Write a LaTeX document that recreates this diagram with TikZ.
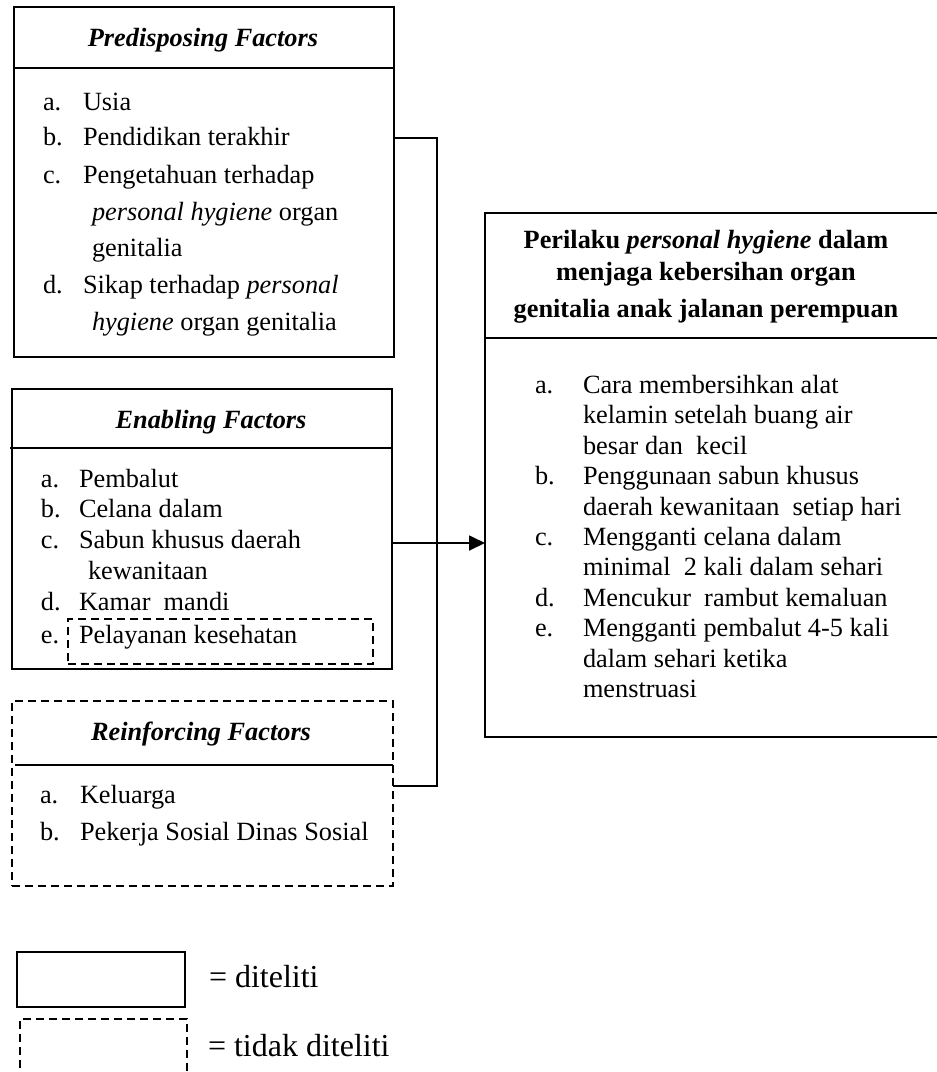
\documentclass[tikz,border=0pt]{standalone}
\usepackage{fontspec}
\setmainfont{Liberation Serif}
\usetikzlibrary{arrows.meta}
\newcommand\putline[4]{\node[body] (#1) at (#2,#3) {#4};}
\begin{document}
\begin{tikzpicture}[x=1pt,y=-1pt,
  every node/.style={inner sep=0pt, outer sep=0pt},
  solidbox/.style={draw, line width=1.8pt, anchor=north west},
  dashbox/.style={draw, line width=1.5pt, dash pattern=on 8pt off 5pt, anchor=north west},
  rule/.style={line width=1.8pt},
  conn/.style={line width=1.8pt},
  body/.style={anchor=base west, font=\fontsize{26.3}{30}\selectfont},
  head/.style={anchor=base, font=\fontsize{26.3}{30}\selectfont\bfseries\itshape},
  rhead/.style={anchor=base, font=\fontsize{26.3}{30}\selectfont\bfseries},
  legend/.style={anchor=base west, font=\fontsize{32}{36}\selectfont}]
\useasboundingbox (0,0) rectangle (937,1072);
\clip (0,0) rectangle (937,1072);
\fill[white] (0,0) rectangle (937,1072);

% ---------- boxes ----------
\node[solidbox, minimum width=380pt, minimum height=350pt] (pred) at (14,7) {};
\node[solidbox, minimum width=380pt, minimum height=280pt] (enab) at (12,389) {};
\node[dashbox, minimum width=381pt, minimum height=185pt] (reinf) at (12,701) {};
\node[solidbox, minimum width=470pt, minimum height=524pt] (beh) at (485,213) {};
\node[dashbox, minimum width=305pt, minimum height=45pt] (pel) at (68,619) {};

% header rules
\draw[rule] (pred.west |- 0,68) -- (pred.east |- 0,68);
\draw[rule] (10,448) -- (enab.east |- 0,448);
\draw[rule] (15,765) -- (reinf.east |- 0,765);
\draw[rule] (beh.west |- 0,338) -- (beh.east |- 0,338);

% ---------- connectors ----------
\coordinate (jtop) at (437,138);
\coordinate (jbot) at (437,786);
\draw[conn] (pred.east |- jtop) -- (jtop) -- (jbot) -- (reinf.east |- jbot);
\draw[conn, -{Triangle[length=16pt,width=15pt]}] (enab.east |- 0,543) -- (beh.west |- 0,543);

% ---------- titles ----------
\node[head] (predt) at (203,46) {Predisposing Factors};
\node[head] (enabt) at (211,428) {Enabling Factors};
\node[head] (reinft) at (201,740) {Reinforcing Factors};
\node[rhead] (beht1) at (706,248) {Perilaku \textit{personal hygiene} dalam};
\node[rhead] (beht2) at (706,280) {menjaga kebersihan organ};
\node[rhead] (beht3) at (706,317) {genitalia anak jalanan perempuan};

% ---------- predisposing items ----------
\putline{pa}{43}{110}{a.}
\putline{pat}{83}{110}{Usia}
\putline{pb}{43}{145}{b.}
\putline{pbt}{83}{145}{Pendidikan terakhir}
\putline{pc}{43}{183}{c.}
\putline{pct}{83}{183}{Pengetahuan terhadap}
\putline{pct2}{92}{220}{\textit{personal hygiene} organ}
\putline{pct3}{92}{256}{genitalia}
\putline{pd}{43}{293}{d.}
\putline{pdt}{83}{293}{Sikap terhadap \textit{personal}}
\putline{pdt2}{92}{330}{\textit{hygiene} organ genitalia}

% ---------- enabling items ----------
\putline{ea}{41}{487}{a.}
\putline{eat}{79}{487}{Pembalut}
\putline{eb}{41}{517}{b.}
\putline{ebt}{79}{517}{Celana dalam}
\putline{ec}{41}{548}{c.}
\putline{ect}{79}{548}{Sabun khusus daerah}
\putline{ect2}{88}{579}{kewanitaan}
\putline{ed}{41}{610}{d.}
\putline{edt}{79}{610}{Kamar\ \ mandi}
\putline{ee}{41}{643}{e.}
\putline{eet}{79}{643}{Pelayanan kesehatan}

% ---------- reinforcing items ----------
\putline{ra}{40}{803}{a.}
\putline{rat}{80}{803}{Keluarga}
\putline{rb}{40}{840}{b.}
\putline{rbt}{80}{840}{Pekerja Sosial Dinas Sosial}

% ---------- behaviour items ----------
\putline{ba}{535}{393}{a.}
\putline{bat}{583}{393}{Cara membersihkan alat}
\putline{bat2}{583}{423}{kelamin setelah buang air}
\putline{bat3}{583}{454}{besar dan\ \ kecil}
\putline{bb}{535}{484}{b.}
\putline{bbt}{583}{484}{Penggunaan sabun khusus}
\putline{bbt2}{583}{515}{daerah kewanitaan\ \ setiap hari}
\putline{bc}{535}{545}{c.}
\putline{bct}{583}{545}{Mengganti celana dalam}
\putline{bct2}{583}{575}{minimal\ \ 2 kali dalam sehari}
\putline{bd}{535}{606}{d.}
\putline{bdt}{583}{606}{Mencukur\ \ rambut kemaluan}
\putline{be}{535}{636}{e.}
\putline{bet}{583}{636}{Mengganti pembalut 4-5 kali}
\putline{bet2}{583}{667}{dalam sehari ketika}
\putline{bet3}{583}{697}{menstruasi}

% ---------- legend ----------
\node[solidbox, minimum width=168pt, minimum height=55pt] (legs) at (17,952) {};
\node[dashbox, minimum width=167pt, minimum height=80pt] (legd) at (20,1019) {};
\node[legend] (legst) at (209,987) {= diteliti};
\node[legend] (legdt) at (208,1056) {= tidak diteliti};
\end{tikzpicture}
\end{document}
